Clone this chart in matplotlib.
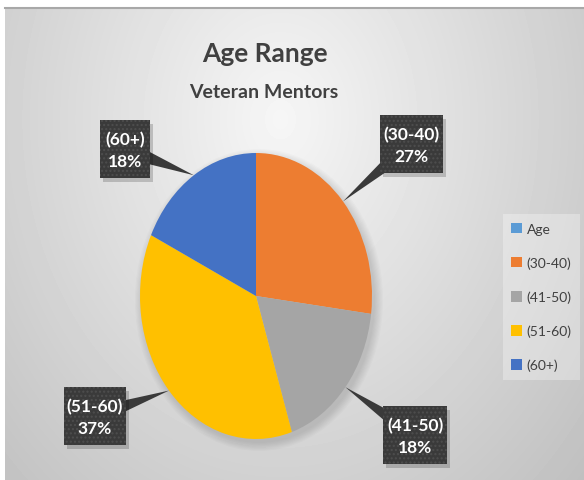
import numpy as np
import matplotlib.pyplot as plt
from matplotlib.patches import Patch, Rectangle, Polygon, Ellipse
from matplotlib.lines import Line2D

plt.rcParams['font.family'] = ['Lato', 'DejaVu Sans']

# Data
categories = ["(30-40)", "(41-50)", "(51-60)", "(60+)"]
shares = [27, 18, 37, 18]
colors = ["#ED7D31", "#A5A5A5", "#FFC000", "#4472C4"]
legend_labels = ["Age"] + categories
legend_colors = ["#5B9BD5"] + colors

# layout in pixels
W, H = 584, 481
CX, CY, RX, RY = 256, 297, 116, 143


def d(px, py):
    # pixel -> pie data coords (pie radius 1 stretched into an ellipse)
    return ((px - CX) / RX, (CY - py) / RY)


fig = plt.figure(figsize=(W / 100, H / 100), dpi=100)
fig.patch.set_facecolor("white")

# grey gradient background of the chart area
bg = fig.add_axes([5 / W, 0, (W - 5) / W, (H - 9) / H])
yy, xx = np.mgrid[9:H, 5:W]
dist = np.sqrt(((xx - 280) / 330) ** 2 + ((yy - 120) / 420) ** 2)
shade = np.clip(0.965 - 0.17 * dist, 0, 1)
bg.imshow(shade, cmap="gray", vmin=0, vmax=1, aspect="auto", interpolation="bilinear")
bg.axis("off")
fig.add_artist(Line2D([5 / W, 1], [1 - 9 / H] * 2, color="#a8a8a8", lw=1.5))

ax = fig.add_axes([0, 0, 1, 1])
ax.patch.set_alpha(0)

# soft shadow under the pie
for i in range(8):
    ax.add_patch(Ellipse(d(CX + 3, CY + 4), 2 * (1 + 0.01 * i), 2 * (1 + 0.008 * i),
                         facecolor="black", alpha=0.015, lw=0, zorder=0))

wedges, _ = ax.pie(shares, colors=colors, startangle=90, counterclock=False,
                   wedgeprops=dict(linewidth=0))
ax.set_aspect("auto")
ax.set_xlim(-CX / RX, (W - CX) / RX)
ax.set_ylim((CY - H) / RY, CY / RY)
ax.axis("off")

# callout boxes (center x, center y, width, height) in pixels
boxes = {
    "(30-40)": (411, 145, 63, 58),
    "(41-50)": (415, 436, 64, 58),
    "(51-60)": (95, 417, 62, 58),
    "(60+)": (125, 150, 50, 58),
}
box_color = "#3a3a3a"

for wedge, cat, val in zip(wedges, categories, shares):
    bx, by, bw, bh = boxes[cat]
    mid = np.deg2rad((wedge.theta1 + wedge.theta2) / 2)
    tx, ty = CX + RX * np.cos(mid), CY - RY * np.sin(mid)
    v = np.array([tx - bx, ty - by])
    perp = np.array([-v[1], v[0]]) / np.hypot(*v) * 9
    pts = [d(bx + perp[0], by + perp[1]), d(bx - perp[0], by - perp[1]), d(tx, ty)]
    ax.add_patch(Polygon(pts, closed=True, facecolor=box_color, lw=0, zorder=3))
    # shadow
    x0, y0 = d(bx - bw / 2 + 3, by + bh / 2 + 4)
    ax.add_patch(Rectangle((x0, y0), bw / RX, bh / RY, facecolor="black",
                           alpha=0.18, lw=0, zorder=3))
    x0, y0 = d(bx - bw / 2, by + bh / 2)
    ax.add_patch(Rectangle((x0, y0), bw / RX, bh / RY, facecolor=box_color,
                           edgecolor="#4e4e4e", hatch="....", lw=0, zorder=4))
    ax.text(*d(bx, by + 1), f"{cat}\n{val}%", ha="center", va="center", color="white",
            fontsize=12.5, fontweight="bold", linespacing=1.4, zorder=5)

# titles
fig.text(265 / W, 1 - 62 / H, "Age Range", ha="center", va="baseline",
         fontsize=19, fontweight="bold", color="#404040")
fig.text(264 / W, 1 - 98 / H, "Veteran Mentors", ha="center", va="baseline",
         fontsize=14, fontweight="bold", color="#404040")

handles = [Patch(facecolor=c) for c in legend_colors]
fig.legend(handles, legend_labels, loc="center left",
           bbox_to_anchor=(503 / W, 1 - 298 / H), frameon=True, facecolor="white",
           framealpha=0.3, edgecolor="none", fancybox=False, fontsize=10,
           labelspacing=1.55, handlelength=0.8, handleheight=0.8,
           handletextpad=0.3, borderpad=0.6, borderaxespad=0, labelcolor="#404040")

fig.savefig("out.png", dpi=100)
